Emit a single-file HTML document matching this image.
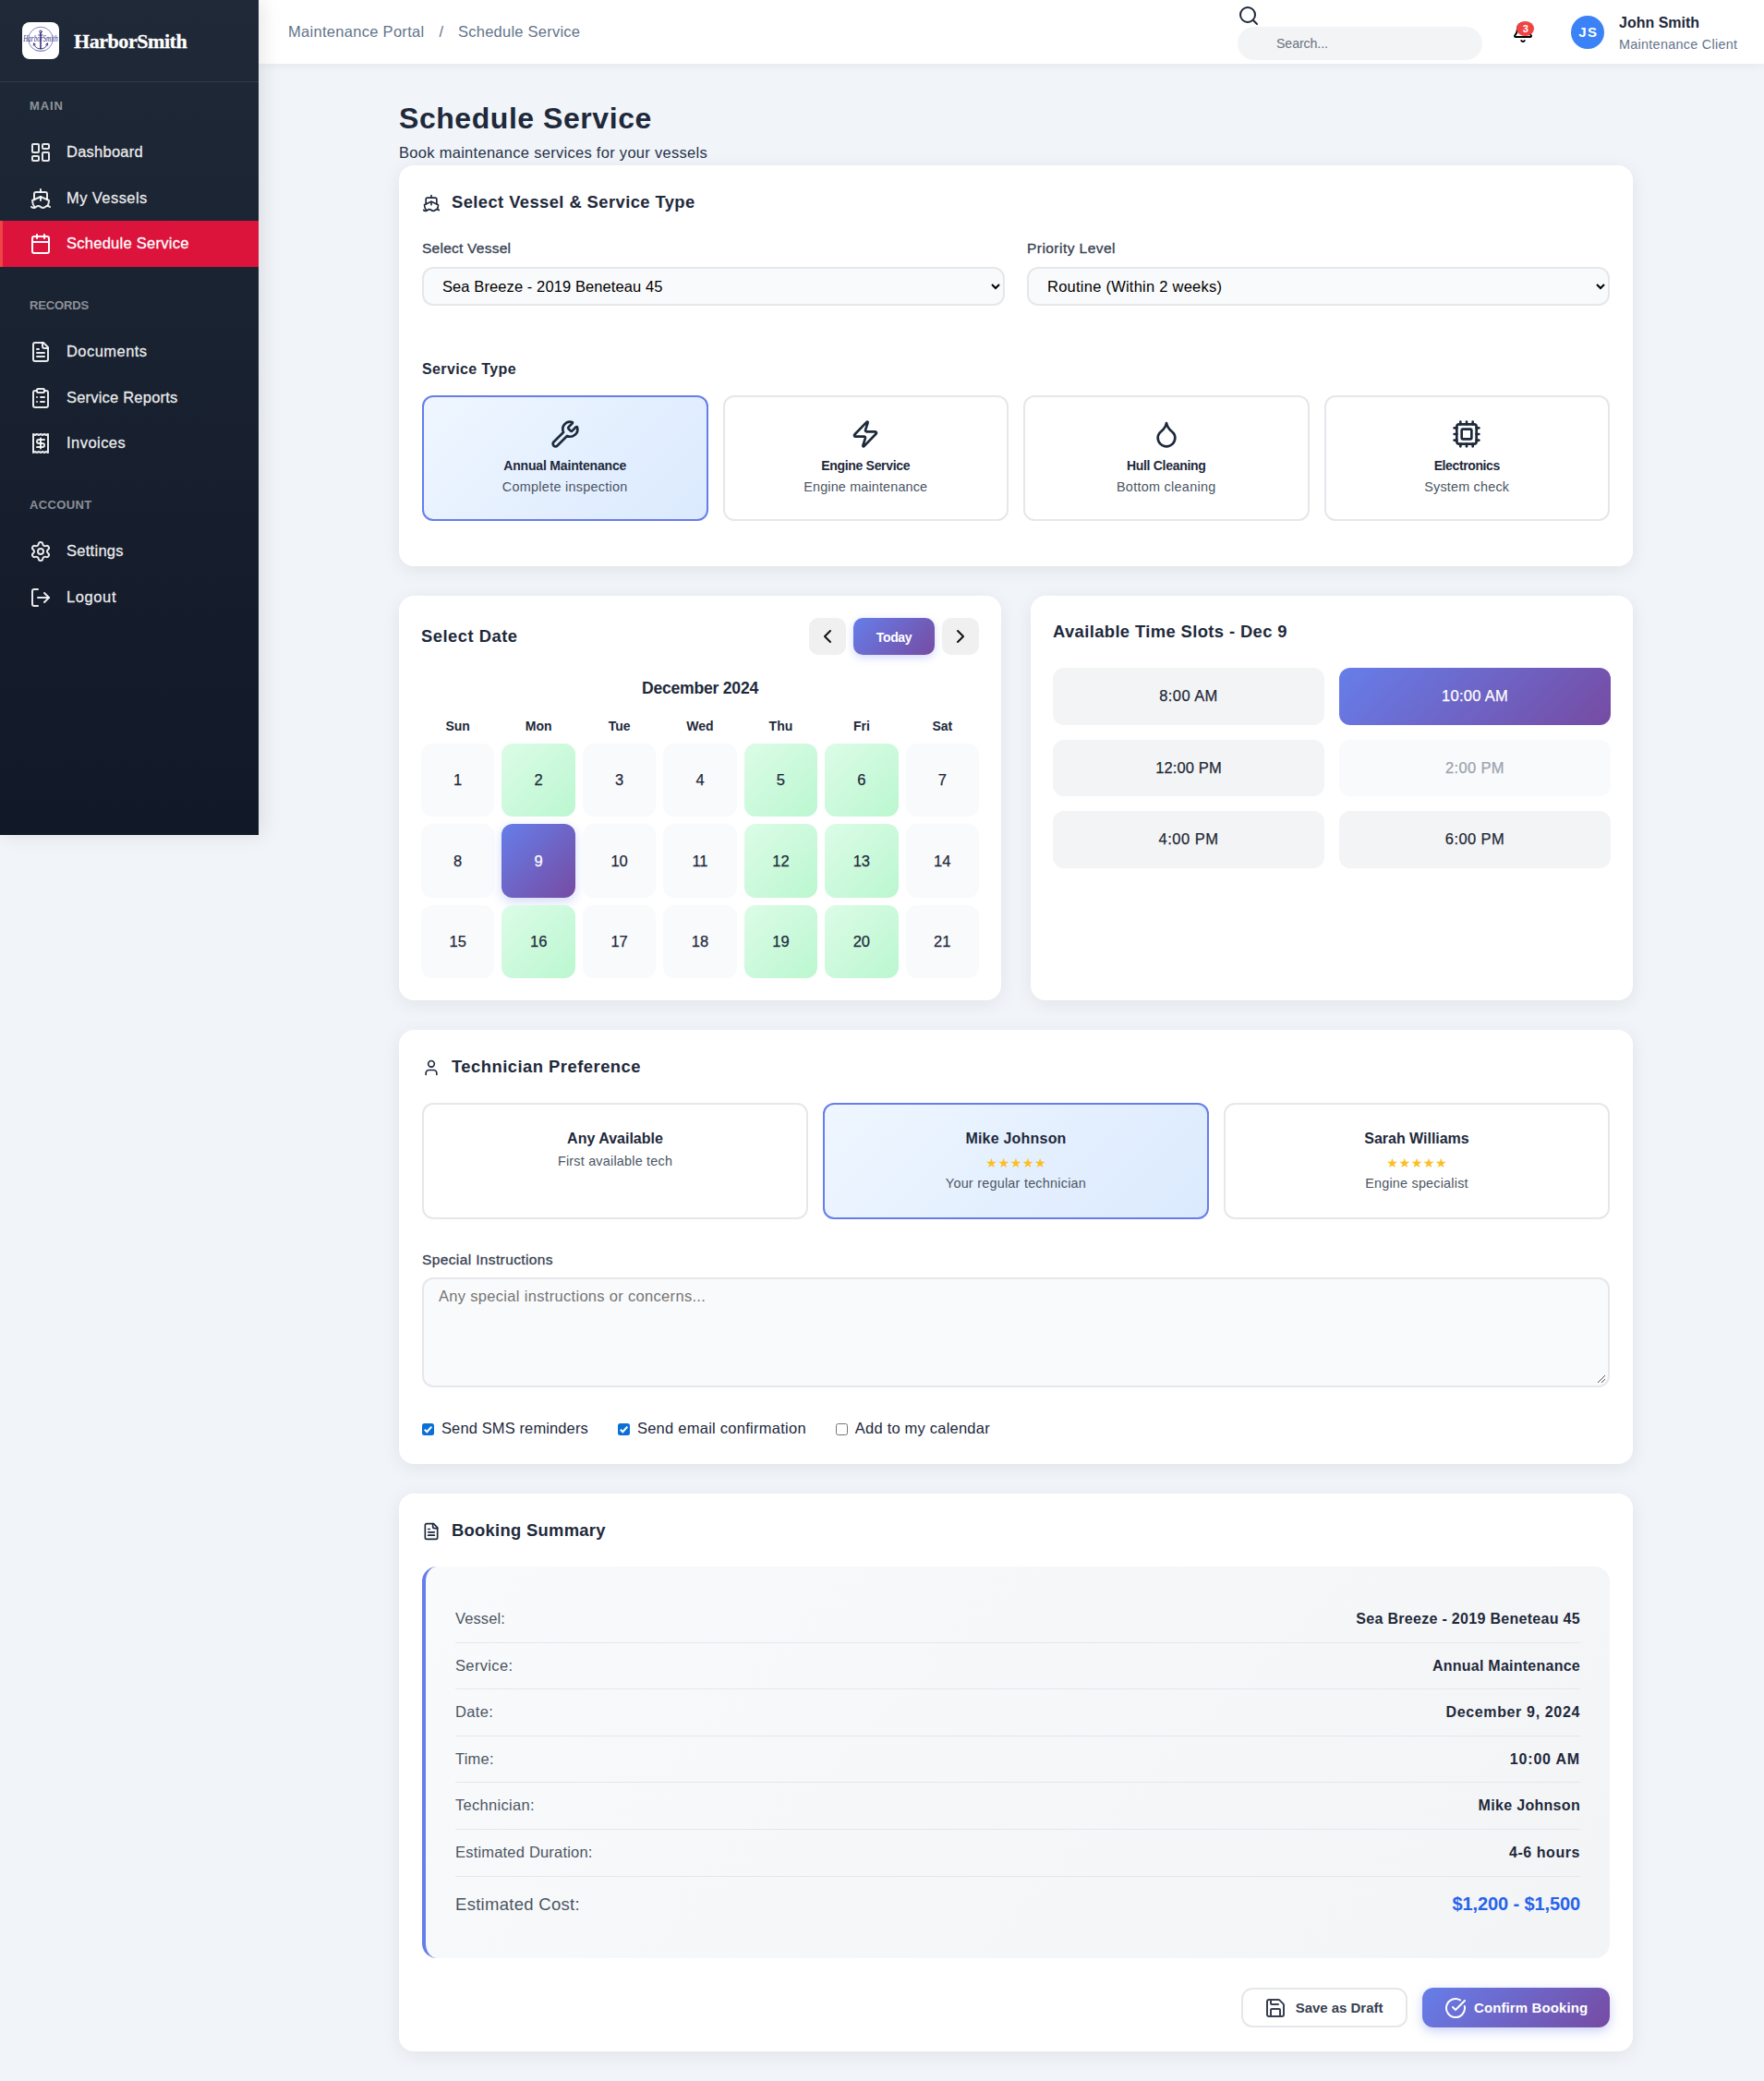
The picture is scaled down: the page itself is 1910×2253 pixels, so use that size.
<!DOCTYPE html>
<html lang="en">
<head>
<meta charset="utf-8">
<title>Schedule Service - HarborSmith Maintenance Portal</title>
<style>
*{box-sizing:border-box;margin:0;padding:0}
html,body{width:1910px;height:2253px;overflow:hidden}
body{font-family:"Liberation Sans",sans-serif;font-size:16px;line-height:1.6;color:#1e293b;background:#f1f5f9;position:relative}
svg.i{fill:none;stroke:currentColor;stroke-width:2;stroke-linecap:round;stroke-linejoin:round;display:block;flex:none}
.t{display:inline-block;white-space:nowrap}

/* sidebar */
.sidebar{position:absolute;left:0;top:0;width:280px;height:904px;background:linear-gradient(180deg,#1f2937 0%,#111827 100%);box-shadow:4px 0 20px rgba(0,0,0,.1);z-index:5;color:#fff}
.sb-head{height:89px;padding:24px;border-bottom:1px solid rgba(255,255,255,.1);display:flex;align-items:center;gap:16px}
.logo-img{width:40px;height:40px;border-radius:8px;background:#fff;flex:none;overflow:hidden}
.logo-text{font-family:"Liberation Serif",serif;font-weight:700;font-size:22px;line-height:40px;color:#fff;position:relative;top:.8px;-webkit-text-stroke:.3px #fff}
.nav{padding-top:16px}
.nav-sec{margin-bottom:32px}
.nav-title{position:relative;top:.2px;padding:0 32px;font-size:13px;font-weight:700;letter-spacing:1px;color:rgba(255,255,255,.5);text-transform:uppercase;margin-bottom:16px;line-height:19.2px;height:19.2px}
.nav-item{display:flex;align-items:center;gap:16px;height:49.6px;padding:0 29px;border-left:3px solid transparent;color:rgba(255,255,255,.9);font-size:16.5px;font-weight:400}
.nav-item svg{width:24px;height:24px;position:relative;top:.2px}
.nav-item .t{position:relative;top:-1.2px;-webkit-text-stroke:.3px currentColor}
.nav-item.active{background:#dc143c;border-left-color:#ef4444;color:#fff}

/* header */
.header{position:absolute;left:280px;top:0;width:1630px;height:69px;background:#fff;box-shadow:0 2px 10px rgba(0,0,0,.05);z-index:3}
.crumb{position:absolute;left:32px;top:21.5px;height:25.6px;display:flex;align-items:center;color:#64748b;font-size:16.5px;white-space:nowrap}
.crumb .sep{margin:0 16px}
.h-search-ico{position:absolute;left:1059.5px;top:4.5px;width:24px;height:24px;color:#1e293b}
.h-search{position:absolute;left:1060px;top:29px;width:265px;height:36px;border-radius:18px;background:#f3f4f6;font-size:14.2px;color:#6b7280;line-height:36px;padding-left:42px}
.h-bell{position:absolute;left:1357px;top:22.85px;width:24px;height:24px;color:#000}
.h-badge{position:absolute;left:1362.2px;top:22.8px;width:19px;height:16px;border-radius:50%;background:#ef4444;color:#fff;font-size:11px;font-weight:700;line-height:16px;text-align:center}
.h-avatar{position:absolute;left:1421px;top:17px;width:36px;height:36px;border-radius:50%;background:#3b82f6;color:#fff;font-weight:700;font-size:15px;line-height:36px;text-align:center}
.h-name{position:absolute;left:1473px;top:11.8px;font-weight:700;font-size:16px;line-height:25.6px;color:#1e293b;white-space:nowrap}
.h-role{position:absolute;left:1473px;top:36.8px;font-size:14.4px;line-height:22.4px;color:#64748b;white-space:nowrap}

/* main */
.main{position:absolute;left:432px;top:0;width:1336px}
.page-title{position:absolute;left:0;top:103.3px;font-size:32px;font-weight:700;line-height:51.2px;color:#1e293b;white-space:nowrap}
.page-sub{position:absolute;left:0;top:152.6px;font-size:16.5px;line-height:25.6px;color:#27324a;white-space:nowrap}
.card{position:absolute;background:#fff;border-radius:16px;box-shadow:0 4px 20px rgba(0,0,0,.075)}
.card-title{position:relative;top:1.1px;display:flex;align-items:center;gap:12px;font-size:18.4px;font-weight:700;line-height:28.8px;color:#1e293b;white-space:nowrap}
.card-title svg{width:20px;height:20px;position:relative;top:.6px}

/* card 1 */
.c1{left:0;top:179px;width:1336px;height:434px;padding:25px}
.c1 .card-title{margin-bottom:25px}
.frow{display:flex;gap:24px}
.fgroup{flex:1}
.flabel{display:block;font-size:15.5px;font-weight:400;line-height:22.4px;color:#374151;margin-bottom:9.2px;white-space:nowrap;-webkit-text-stroke:.3px #374151}
select.fsel{display:block;width:100%;height:42px;border:2px solid #e5e7eb;border-radius:12px;background-color:#f9fafb;font-family:"Liberation Sans",sans-serif;font-size:16.5px;color:#000;padding:0 16px;outline:none}
.sub-h{font-size:16px;font-weight:700;line-height:25.6px;color:#1e293b;margin-top:55.2px;margin-bottom:15.7px;white-space:nowrap}
.sgrid{display:grid;grid-template-columns:repeat(4,1fr);gap:16px}
.sopt{height:136px;border:2px solid #e5e7eb;border-radius:12px;background:#fff;text-align:center;padding-top:24px}
.sopt.sel{border-color:#667eea;background:linear-gradient(135deg,#eff6ff 0%,#dbeafe 100%)}
.sopt svg{width:32px;height:32px;margin:0 auto 7px;color:#1e293b}
.sopt .n{position:relative;top:.4px;font-size:14px;font-weight:700;line-height:22.4px;color:#1e293b;white-space:nowrap}
.sopt .d{position:relative;top:1px;font-size:14.4px;line-height:22.4px;color:#4b5563;white-space:nowrap}

/* card 2: calendar */
.c2{left:0;top:644.5px;width:652px;height:438.5px;padding:24px}
.cal-head{display:flex;align-items:center;height:40px}
.cal-head .ttl{position:relative;top:.6px;font-size:18.4px;font-weight:700;color:#1e293b;line-height:28.8px;flex:1;white-space:nowrap}
.cbtn{width:40px;height:40px;border-radius:10px;background:#f0f0f1;color:#111;display:flex;align-items:center;justify-content:center;margin-left:8px}
.cbtn svg{width:24px;height:24px}
.cbtn.today{width:88px;padding-top:2.4px;background:linear-gradient(135deg,#667eea 0%,#764ba2 100%);color:#fff;font-size:14px;font-weight:700;box-shadow:0 3px 9px rgba(102,126,234,.3)}
.cal-month{margin-top:22.5px;height:28.2px;line-height:28.2px;text-align:center;font-size:17.6px;font-weight:700;color:#1e293b;white-space:nowrap}
.cal-grid{display:grid;grid-template-columns:repeat(7,1fr);column-gap:8px;row-gap:8px;margin-top:15.4px}
.dh{height:22.4px;line-height:22.4px;font-size:14px;font-weight:700;text-align:center;color:#1e293b}
.dc{-webkit-text-stroke:.25px currentColor;height:79.43px;border-radius:12px;background:#f9fafb;display:flex;align-items:center;justify-content:center;font-size:16.5px;color:#1e293b}
.dc.av{background:linear-gradient(135deg,#dcfce7 0%,#bbf7d0 100%)}
.dc.sel{background:linear-gradient(135deg,#667eea 0%,#764ba2 100%);color:#fff;box-shadow:0 4px 12px rgba(102,126,234,.3)}
/* card 3: time slots */
.c3{left:684px;top:644.5px;width:652px;height:438.5px;padding:24px}
.c3 .ttl{position:relative;top:1px;font-size:18.4px;font-weight:700;color:#1e293b;line-height:28.8px;white-space:nowrap}
.tgrid{display:grid;grid-template-columns:1fr 1fr;gap:16px;margin-top:25.7px}
.ts{-webkit-text-stroke:.25px currentColor;height:61.6px;border-radius:12px;background:#f3f4f6;display:flex;align-items:center;justify-content:center;font-size:16.5px;color:#1f2937;white-space:nowrap}
.ts:nth-child(1) .t,.ts:nth-child(2) .t,.ts:nth-child(5) .t,.ts:nth-child(6) .t{position:relative;top:-.8px}
.ts.sel{background:linear-gradient(135deg,#667eea 0%,#764ba2 100%);color:#fff}
.ts.dis{background:#f9fafb;color:#9ca3af}
/* card 4: technician */
.c4{left:0;top:1115px;width:1336px;height:469.5px;padding:24.65px 25px 0}
.tgrid3{display:grid;grid-template-columns:repeat(3,1fr);gap:16px;margin-top:26px}
.topt{height:125.6px;border:2px solid #e5e7eb;border-radius:12px;background:#fff;text-align:center;padding-top:23.5px}
.topt.sel{border-color:#667eea;background:linear-gradient(135deg,#eff6ff 0%,#dbeafe 100%)}
.topt .n{font-size:16px;font-weight:700;line-height:25.6px;color:#1e293b;white-space:nowrap}
.topt .st{height:24.4px;line-height:24.4px;font-family:"DejaVu Sans",sans-serif;font-size:14.2px;letter-spacing:.5px;color:#fbbf24;white-space:nowrap;position:relative;top:1.2px;left:.25px}
.topt .d{font-size:14.4px;line-height:22.4px;color:#4b5563;white-space:nowrap}
.c4 .flabel{margin-top:32.5px;margin-bottom:8.2px}
.ta{height:119.25px;border:2px solid #e5e7eb;border-radius:12px;background:#f9fafb;padding:5.6px 16px;font-size:16.5px;line-height:25.6px;color:#757575;position:relative;white-space:nowrap}
.ta svg{position:absolute;right:2px;bottom:2px;width:10px;height:10px}
.cks{display:flex;align-items:center;height:25.6px;margin-top:32px;font-size:16.5px;color:#1e293b;white-space:nowrap}
.ck{width:13px;height:13px;border-radius:2.5px;margin-right:8px;flex:none;position:relative}
.ck.on{background:#0b6fd6}
.ck.off{background:#fff;border:1px solid #767676}
.ck svg{position:absolute;left:0;top:0;width:13px;height:13px}
.cks .lb{margin-right:32px;position:relative;top:-1px}
/* card 5: summary */
.c5{left:0;top:1617px;width:1336px;height:604px;padding:24.65px 25px 0}
.sum{margin-top:25.5px;height:424px;border-left:4px solid #667eea;border-radius:16px;background:linear-gradient(135deg,#f9fafb 0%,#f3f4f6 100%);padding:32px 32px 0}
.srow{display:flex;justify-content:space-between;align-items:center;height:50.6px;border-bottom:1px solid #e5e7eb;font-size:16px;white-space:nowrap}
.srow .k{color:#4b5563;font-size:16.5px;position:relative;top:-.8px}
.srow .v{color:#1e293b;font-weight:700}
.srow.tot{height:56px;border-bottom:0}
.srow.tot .k{font-size:18.5px;top:1px}
.srow.tot .v{font-size:20px;color:#2563eb}
.srow.tot .t{position:relative;top:1px}
.btns{display:flex;justify-content:flex-end;gap:16px;margin-top:32.4px}
.btn{height:43px;border-radius:12px;display:flex;align-items:center;justify-content:flex-start;padding-left:24px;gap:8px;font-size:15px;font-weight:700;white-space:nowrap}
.btn svg{width:24px;height:24px}
.btn.sec{width:180px;padding-left:22.5px;border:2px solid #e5e7eb;background:#fff;color:#374151}
.btn.pri{width:203px;background:linear-gradient(135deg,#667eea 0%,#764ba2 100%);color:#fff;box-shadow:0 4px 12px rgba(102,126,234,.35)}
#t-b1{margin-left:2.2px}
#t-js{margin-left:1.6px}
.srow #t-k2{position:relative;top:.8px}
.nav-item #t-vess{top:0}.nav-item #t-docs{top:-.3px}.nav-item #t-rep{top:.1px}.nav-item #t-inv{top:-.9px}.nav-item #t-out{top:-.4px}
#t-logo{letter-spacing:-0.438px}
#t-main{letter-spacing:0.890px}
#t-rec{letter-spacing:-0.123px}
#t-acc{letter-spacing:0.358px}
#t-dash{letter-spacing:0.245px}
#t-vess{letter-spacing:0.423px}
#t-sched{letter-spacing:0.265px}
#t-docs{letter-spacing:0.450px}
#t-rep{letter-spacing:0.205px}
#t-inv{letter-spacing:0.460px}
#t-set{letter-spacing:0.276px}
#t-out{letter-spacing:0.603px}
#t-c1{letter-spacing:0.294px}
#t-c2{letter-spacing:0.235px}
#t-search{letter-spacing:-0.104px}
#t-name{letter-spacing:-0.004px}
#t-role{letter-spacing:0.283px}
#t-title{letter-spacing:0.551px}
#t-sub{letter-spacing:0.289px}
#t-c1t{letter-spacing:0.409px}
#t-l1{letter-spacing:0.241px}
#t-l2{letter-spacing:0.451px}
#t-st{letter-spacing:0.374px}
#t-s1n{letter-spacing:-0.182px}
#t-s1d{letter-spacing:0.284px}
#t-s2n{letter-spacing:-0.323px}
#t-s2d{letter-spacing:0.158px}
#t-s3n{letter-spacing:-0.300px}
#t-s3d{letter-spacing:0.294px}
#t-s4n{letter-spacing:-0.389px}
#t-s4d{letter-spacing:0.193px}
#t-sd{letter-spacing:0.482px}
#t-month{letter-spacing:-0.235px}
#t-today{letter-spacing:-0.376px}
#t-ats{letter-spacing:0.378px}
#t-ts1{letter-spacing:0.424px}
#t-ts2{letter-spacing:0.303px}
#t-ts3{letter-spacing:0.131px}
#t-ts4{letter-spacing:0.349px}
#t-ts5{letter-spacing:0.483px}
#t-ts6{letter-spacing:0.416px}
#t-tp{letter-spacing:0.480px}
#t-t1n{letter-spacing:0.005px}
#t-t1d{letter-spacing:0.212px}
#t-t2n{letter-spacing:0.213px}
#t-t2d{letter-spacing:0.243px}
#t-t3n{letter-spacing:-0.022px}
#t-t3d{letter-spacing:0.207px}
#t-si{letter-spacing:0.374px}
#t-ph{letter-spacing:0.313px}
#t-ck1{letter-spacing:0.114px}
#t-ck2{letter-spacing:0.258px}
#t-ck3{letter-spacing:0.214px}
#t-bs{letter-spacing:0.286px}
#t-k1{letter-spacing:0.106px}
#t-k2{letter-spacing:0.354px}
#t-k3{letter-spacing:0.362px}
#t-k4{letter-spacing:0.212px}
#t-k5{letter-spacing:0.294px}
#t-k6{letter-spacing:0.194px}
#t-k7{letter-spacing:0.290px}
#t-v1{letter-spacing:0.303px}
#t-v2{letter-spacing:0.248px}
#t-v3{letter-spacing:0.646px}
#t-v4{letter-spacing:0.811px}
#t-v5{letter-spacing:0.309px}
#t-v6{letter-spacing:0.560px}
#t-v7{letter-spacing:-0.107px}
#t-b1{letter-spacing:-0.022px}
#t-b2{letter-spacing:0.108px}
#t-js{letter-spacing:1.358px}
#sel1{letter-spacing:0.095px}
#sel2{letter-spacing:0.243px}
</style>
</head>
<body>

<aside class="sidebar">
  <div class="sb-head">
    <div class="logo-img">
      <svg width="40" height="40" viewBox="0 0 40 40">
        <circle cx="20" cy="18.400" r="13.200" fill="none" stroke="#3a3990" stroke-width="0.600"/>
        <g fill="none" stroke="#26256e" stroke-linecap="round">
          <circle cx="20" cy="10.300" r="1.300" stroke-width="0.900"/>
          <path d="M20 11.700v17" stroke-width="1.500"/>
          <path d="M17.600 14h4.800" stroke-width="0.800"/>
          <path d="M12.600 23.200c1.300 4.200 4 5.600 7.400 5.600s6.100-1.400 7.400-5.600" stroke-width="1"/>
          <path d="M12.300 25.200l.2-2.400 2 1.300M27.700 25.200l-.2-2.400-2 1.300" stroke-width="0.800"/>
        </g>
        <text x="1.200" y="21.300" font-family="Liberation Serif,serif" font-style="italic" font-size="10" fill="#34338a" textLength="37.500" lengthAdjust="spacingAndGlyphs">HarborSmith</text>
        <text x="20" y="31.200" text-anchor="middle" font-family="Liberation Sans,sans-serif" font-size="1.800" fill="#4a4a9a" letter-spacing="0.300">EST 2024</text>
      </svg>
    </div>
    <div class="logo-text"><span class="t" id="t-logo">HarborSmith</span></div>
  </div>
  <nav class="nav">
    <div class="nav-sec">
      <div class="nav-title"><span class="t" id="t-main">Main</span></div>
      <div class="nav-item"><svg class="i" viewBox="0 0 24 24"><rect width="7" height="9" x="3" y="3" rx="1"/><rect width="7" height="5" x="14" y="3" rx="1"/><rect width="7" height="9" x="14" y="12" rx="1"/><rect width="7" height="5" x="3" y="16" rx="1"/></svg><span class="t" id="t-dash">Dashboard</span></div>
      <div class="nav-item"><svg class="i" viewBox="0 0 24 24"><path d="M2 21c.6.5 1.2 1 2.500 1 2.500 0 2.500-2 5-2 1.300 0 1.900.5 2.500 1 .6.5 1.200 1 2.500 1 2.500 0 2.500-2 5-2 1.300 0 1.900.5 2.500 1"/><path d="M19.380 20A11.600 11.600 0 0 0 21 14l-9-4-9 4c0 2.900.940 5.340 2.810 7.760"/><path d="M19 13V7a2 2 0 0 0-2-2H7a2 2 0 0 0-2 2v6"/><path d="M12 10v4"/><path d="M12 2v3"/></svg><span class="t" id="t-vess">My Vessels</span></div>
      <div class="nav-item active"><svg class="i" viewBox="0 0 24 24"><path d="M8 2v4"/><path d="M16 2v4"/><rect width="18" height="18" x="3" y="4" rx="2"/><path d="M3 10h18"/></svg><span class="t" id="t-sched">Schedule Service</span></div>
    </div>
    <div class="nav-sec">
      <div class="nav-title"><span class="t" id="t-rec">Records</span></div>
      <div class="nav-item"><svg class="i" viewBox="0 0 24 24"><path d="M15 2H6a2 2 0 0 0-2 2v16a2 2 0 0 0 2 2h12a2 2 0 0 0 2-2V7Z"/><path d="M14 2v4a2 2 0 0 0 2 2h4"/><path d="M10 9H8"/><path d="M16 13H8"/><path d="M16 17H8"/></svg><span class="t" id="t-docs">Documents</span></div>
      <div class="nav-item"><svg class="i" viewBox="0 0 24 24"><rect width="8" height="4" x="8" y="2" rx="1" ry="1"/><path d="M16 4h2a2 2 0 0 1 2 2v14a2 2 0 0 1-2 2H6a2 2 0 0 1-2-2V6a2 2 0 0 1 2-2h2"/><path d="M12 11h4"/><path d="M12 16h4"/><path d="M8 11h.01"/><path d="M8 16h.01"/></svg><span class="t" id="t-rep">Service Reports</span></div>
      <div class="nav-item"><svg class="i" viewBox="0 0 24 24"><path d="M4 2v20l2-1 2 1 2-1 2 1 2-1 2 1 2-1 2 1V2l-2 1-2-1-2 1-2-1-2 1-2-1-2 1Z"/><path d="M16 8h-6a2 2 0 1 0 0 4h4a2 2 0 1 1 0 4H8"/><path d="M12 17.5v-11"/></svg><span class="t" id="t-inv">Invoices</span></div>
    </div>
    <div class="nav-sec">
      <div class="nav-title"><span class="t" id="t-acc">Account</span></div>
      <div class="nav-item"><svg class="i" viewBox="0 0 24 24"><path d="M9.671 4.136a2.340 2.340 0 0 1 4.659 0 2.340 2.340 0 0 0 3.319 1.915 2.340 2.340 0 0 1 2.330 4.033 2.340 2.340 0 0 0 0 3.831 2.340 2.340 0 0 1-2.330 4.033 2.340 2.340 0 0 0-3.319 1.915 2.340 2.340 0 0 1-4.659 0 2.340 2.340 0 0 0-3.320-1.915 2.340 2.340 0 0 1-2.330-4.033 2.340 2.340 0 0 0 0-3.831A2.340 2.340 0 0 1 6.350 6.051a2.340 2.340 0 0 0 3.319-1.915"/><circle cx="12" cy="12" r="3"/></svg><span class="t" id="t-set">Settings</span></div>
      <div class="nav-item"><svg class="i" viewBox="0 0 24 24"><path d="M9 21H5a2 2 0 0 1-2-2V5a2 2 0 0 1 2-2h4"/><polyline points="16 17 21 12 16 7"/><line x1="21" x2="9" y1="12" y2="12"/></svg><span class="t" id="t-out">Logout</span></div>
    </div>
  </nav>
</aside>

<header class="header">
  <div class="crumb"><span class="t" id="t-c1">Maintenance Portal</span><span class="sep">/</span><span class="t" id="t-c2">Schedule Service</span></div>
  <svg class="i h-search-ico" viewBox="0 0 24 24"><circle cx="11" cy="11" r="8"/><path d="m21 21-4.300-4.300"/></svg>
  <div class="h-search"><span class="t" id="t-search">Search...</span></div>
  <svg class="i h-bell" viewBox="0 0 24 24"><path d="M10.268 21a2 2 0 0 0 3.464 0"/><path d="M3.262 15.326A1 1 0 0 0 4 17h16a1 1 0 0 0 .740-1.673C19.410 13.956 18 12.499 18 8A6 6 0 0 0 6 8c0 4.499-1.411 5.956-2.738 7.326"/></svg>
  <div class="h-badge">3</div>
  <div class="h-avatar"><span class="t" id="t-js">JS</span></div>
  <div class="h-name"><span class="t" id="t-name">John Smith</span></div>
  <div class="h-role"><span class="t" id="t-role">Maintenance Client</span></div>
</header>

<main class="main">
  <h1 class="page-title"><span class="t" id="t-title">Schedule Service</span></h1>
  <p class="page-sub"><span class="t" id="t-sub">Book maintenance services for your vessels</span></p>

  <section class="card c1">
    <div class="card-title"><svg class="i" viewBox="0 0 24 24"><path d="M2 21c.6.5 1.2 1 2.500 1 2.500 0 2.500-2 5-2 1.300 0 1.900.5 2.500 1 .6.5 1.200 1 2.500 1 2.500 0 2.500-2 5-2 1.300 0 1.900.5 2.500 1"/><path d="M19.380 20A11.600 11.600 0 0 0 21 14l-9-4-9 4c0 2.900.940 5.340 2.810 7.760"/><path d="M19 13V7a2 2 0 0 0-2-2H7a2 2 0 0 0-2 2v6"/><path d="M12 10v4"/><path d="M12 2v3"/></svg><span class="t" id="t-c1t">Select Vessel &amp; Service Type</span></div>
    <div class="frow">
      <div class="fgroup">
        <label class="flabel"><span class="t" id="t-l1">Select Vessel</span></label>
        <select class="fsel" id="sel1"><option>Sea Breeze - 2019 Beneteau 45</option></select>
      </div>
      <div class="fgroup">
        <label class="flabel"><span class="t" id="t-l2">Priority Level</span></label>
        <select class="fsel" id="sel2"><option>Routine (Within 2 weeks)</option></select>
      </div>
    </div>
    <div class="sub-h"><span class="t" id="t-st">Service Type</span></div>
    <div class="sgrid">
      <div class="sopt sel"><svg class="i" viewBox="0 0 24 24"><path d="M14.700 6.300a1 1 0 0 0 0 1.400l1.600 1.600a1 1 0 0 0 1.400 0l3.106-3.105c.320-.322.863-.220.983.218a6 6 0 0 1-8.259 7.057l-7.910 7.910a1 1 0 0 1-2.999-3l7.910-7.910a6 6 0 0 1 7.057-8.259c.438.120.540.662.219.984z"/></svg><div class="n"><span class="t" id="t-s1n">Annual Maintenance</span></div><div class="d"><span class="t" id="t-s1d">Complete inspection</span></div></div>
      <div class="sopt"><svg class="i" viewBox="0 0 24 24"><path d="M4 14a1 1 0 0 1-.780-1.630l9.900-10.200a.5.5 0 0 1 .860.460l-1.920 6.020A1 1 0 0 0 13 10h7a1 1 0 0 1 .780 1.630l-9.900 10.200a.5.5 0 0 1-.860-.460l1.920-6.020A1 1 0 0 0 11 14z"/></svg><div class="n"><span class="t" id="t-s2n">Engine Service</span></div><div class="d"><span class="t" id="t-s2d">Engine maintenance</span></div></div>
      <div class="sopt"><svg class="i" viewBox="0 0 24 24"><path d="M12 22a7 7 0 0 0 7-7c0-2-1-3.900-3-5.500s-3.500-4-4-6.500c-.5 2.500-2 4.900-4 6.500C6 11.100 5 13 5 15a7 7 0 0 0 7 7z"/></svg><div class="n"><span class="t" id="t-s3n">Hull Cleaning</span></div><div class="d"><span class="t" id="t-s3d">Bottom cleaning</span></div></div>
      <div class="sopt"><svg class="i" viewBox="0 0 24 24"><path d="M12 20v2"/><path d="M12 2v2"/><path d="M17 20v2"/><path d="M17 2v2"/><path d="M2 12h2"/><path d="M2 17h2"/><path d="M2 7h2"/><path d="M20 12h2"/><path d="M20 17h2"/><path d="M20 7h2"/><path d="M7 20v2"/><path d="M7 2v2"/><rect x="4" y="4" width="16" height="16" rx="2"/><rect x="8" y="8" width="8" height="8" rx="1"/></svg><div class="n"><span class="t" id="t-s4n">Electronics</span></div><div class="d"><span class="t" id="t-s4d">System check</span></div></div>
    </div>
  </section>

  <section class="card c2">
    <div class="cal-head"><div class="ttl"><span class="t" id="t-sd">Select Date</span></div>
      <div class="cbtn"><svg class="i" viewBox="0 0 24 24"><path d="m15 18-6-6 6-6"/></svg></div>
      <div class="cbtn today"><span class="t" id="t-today">Today</span></div>
      <div class="cbtn"><svg class="i" viewBox="0 0 24 24"><path d="m9 18 6-6-6-6"/></svg></div>
    </div>
    <div class="cal-month"><span class="t" id="t-month">December 2024</span></div>
    <div class="cal-grid"><div class="dh">Sun</div><div class="dh">Mon</div><div class="dh">Tue</div><div class="dh">Wed</div><div class="dh">Thu</div><div class="dh">Fri</div><div class="dh">Sat</div><div class="dc">1</div><div class="dc av">2</div><div class="dc">3</div><div class="dc">4</div><div class="dc av">5</div><div class="dc av">6</div><div class="dc">7</div><div class="dc">8</div><div class="dc sel">9</div><div class="dc">10</div><div class="dc">11</div><div class="dc av">12</div><div class="dc av">13</div><div class="dc">14</div><div class="dc">15</div><div class="dc av">16</div><div class="dc">17</div><div class="dc">18</div><div class="dc av">19</div><div class="dc av">20</div><div class="dc">21</div></div>
  </section>
  <section class="card c3">
    <div class="ttl"><span class="t" id="t-ats">Available Time Slots - Dec 9</span></div>
    <div class="tgrid">
      <div class="ts"><span class="t" id="t-ts1">8:00 AM</span></div>
      <div class="ts sel"><span class="t" id="t-ts2">10:00 AM</span></div>
      <div class="ts"><span class="t" id="t-ts3">12:00 PM</span></div>
      <div class="ts dis"><span class="t" id="t-ts4">2:00 PM</span></div>
      <div class="ts"><span class="t" id="t-ts5">4:00 PM</span></div>
      <div class="ts"><span class="t" id="t-ts6">6:00 PM</span></div>
    </div>
  </section>
  <section class="card c4">
    <div class="card-title"><svg class="i" viewBox="0 0 24 24"><path d="M19 21v-2a4 4 0 0 0-4-4H9a4 4 0 0 0-4 4v2"/><circle cx="12" cy="7" r="4"/></svg><span class="t" id="t-tp">Technician Preference</span></div>
    <div class="tgrid3">
      <div class="topt"><div class="n"><span class="t" id="t-t1n">Any Available</span></div><div class="d"><span class="t" id="t-t1d">First available tech</span></div></div>
      <div class="topt sel"><div class="n"><span class="t" id="t-t2n">Mike Johnson</span></div><div class="st"><span class="t" id="t-st1">★★★★★</span></div><div class="d"><span class="t" id="t-t2d">Your regular technician</span></div></div>
      <div class="topt"><div class="n"><span class="t" id="t-t3n">Sarah Williams</span></div><div class="st"><span class="t" id="t-st2">★★★★★</span></div><div class="d"><span class="t" id="t-t3d">Engine specialist</span></div></div>
    </div>
    <label class="flabel"><span class="t" id="t-si">Special Instructions</span></label>
    <div class="ta"><span class="t" id="t-ph">Any special instructions or concerns...</span><svg viewBox="0 0 10 10"><path d="M9 1L1 9M9 5L5 9" stroke="#555" stroke-width="1" fill="none"/></svg></div>
    <div class="cks">
      <span class="ck on"><svg viewBox="0 0 13 13"><path d="M2.800 6.700l2.500 2.500 5-5.600" fill="none" stroke="#fff" stroke-width="2.100"/></svg></span><span class="lb"><span class="t" id="t-ck1">Send SMS reminders</span></span>
      <span class="ck on"><svg viewBox="0 0 13 13"><path d="M2.800 6.700l2.500 2.500 5-5.600" fill="none" stroke="#fff" stroke-width="2.100"/></svg></span><span class="lb"><span class="t" id="t-ck2">Send email confirmation</span></span>
      <span class="ck off"></span><span class="lb"><span class="t" id="t-ck3">Add to my calendar</span></span>
    </div>
  </section>
  <section class="card c5">
    <div class="card-title"><svg class="i" viewBox="0 0 24 24"><path d="M15 2H6a2 2 0 0 0-2 2v16a2 2 0 0 0 2 2h12a2 2 0 0 0 2-2V7Z"/><path d="M14 2v4a2 2 0 0 0 2 2h4"/><path d="M10 9H8"/><path d="M16 13H8"/><path d="M16 17H8"/></svg><span class="t" id="t-bs">Booking Summary</span></div>
    <div class="sum">
      <div class="srow"><span class="k"><span class="t" id="t-k1">Vessel:</span></span><span class="v"><span class="t" id="t-v1">Sea Breeze - 2019 Beneteau 45</span></span></div>
      <div class="srow"><span class="k"><span class="t" id="t-k2">Service:</span></span><span class="v"><span class="t" id="t-v2">Annual Maintenance</span></span></div>
      <div class="srow"><span class="k"><span class="t" id="t-k3">Date:</span></span><span class="v"><span class="t" id="t-v3">December 9, 2024</span></span></div>
      <div class="srow"><span class="k"><span class="t" id="t-k4">Time:</span></span><span class="v"><span class="t" id="t-v4">10:00 AM</span></span></div>
      <div class="srow"><span class="k"><span class="t" id="t-k5">Technician:</span></span><span class="v"><span class="t" id="t-v5">Mike Johnson</span></span></div>
      <div class="srow"><span class="k"><span class="t" id="t-k6">Estimated Duration:</span></span><span class="v"><span class="t" id="t-v6">4-6 hours</span></span></div>
      <div class="srow tot"><span class="k"><span class="t" id="t-k7">Estimated Cost:</span></span><span class="v"><span class="t" id="t-v7">$1,200 - $1,500</span></span></div>
    </div>
    <div class="btns">
      <div class="btn sec"><svg class="i" viewBox="0 0 24 24"><path d="M15.200 3a2 2 0 0 1 1.400.6l3.800 3.800a2 2 0 0 1 .6 1.400V19a2 2 0 0 1-2 2H5a2 2 0 0 1-2-2V5a2 2 0 0 1 2-2z"/><path d="M17 21v-7a1 1 0 0 0-1-1H8a1 1 0 0 0-1 1v7"/><path d="M7 3v4a1 1 0 0 0 1 1h7"/></svg><span class="t" id="t-b1">Save as Draft</span></div>
      <div class="btn pri"><svg class="i" viewBox="0 0 24 24"><path d="M21.801 10A10 10 0 1 1 17 3.335"/><path d="m9 11 3 3L22 4"/></svg><span class="t" id="t-b2">Confirm Booking</span></div>
    </div>
  </section>

</main>

</body>
</html>
